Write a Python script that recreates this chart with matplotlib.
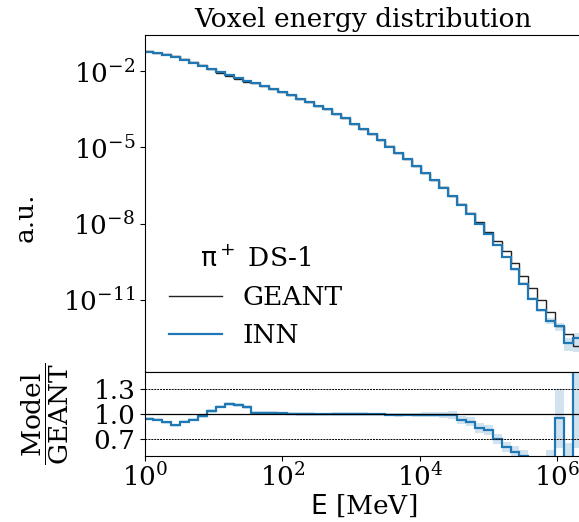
import numpy as np
import matplotlib
matplotlib.use("Agg")
import matplotlib.pyplot as plt
from matplotlib.ticker import NullLocator, FixedLocator

plt.rcParams['font.family'] = ['DejaVu Serif']
plt.rcParams['mathtext.fontset'] = 'dejavusans'

# log10 bin edges (MeV): 49 bins
edges = np.logspace(-0.01, 6.36, 50)

geant = [6.10e-2, 5.36e-2, 4.63e-2, 4.00e-2, 2.97e-2, 2.30e-2, 1.66e-2, 1.19e-2,
         8.38e-3, 6.18e-3, 4.75e-3, 3.86e-3, 3.26e-3, 2.67e-3, 1.94e-3, 1.47e-3,
         1.15e-3, 8.13e-4, 6.18e-4, 4.28e-4, 3.10e-4, 2.09e-4, 1.38e-4, 8.51e-5,
         5.25e-5, 3.24e-5, 1.87e-5, 1.08e-5, 6.08e-6, 3.50e-6, 1.88e-6, 1.01e-6,
         5.18e-7, 2.65e-7, 1.24e-7, 6.05e-8, 2.58e-8, 1.15e-8, 4.68e-9, 2.07e-9,
         8.04e-10, 2.88e-10, 8.71e-11, 2.95e-11, 9.55e-12, 3.24e-12, 9.77e-13,
         4.68e-13, 1.51e-13]

inn = [5.76e-2, 5.01e-2, 4.17e-2, 3.46e-2, 2.69e-2, 2.14e-2, 1.62e-2, 1.23e-2,
       9.12e-3, 6.92e-3, 5.25e-3, 4.17e-3, 3.31e-3, 2.70e-3, 1.96e-3, 1.48e-3,
       1.153e-3, 8.13e-4, 6.17e-4, 4.27e-4, 3.09e-4, 2.09e-4, 1.38e-4, 8.51e-5,
       5.25e-5, 3.23e-5, 1.86e-5, 1.07e-5, 6.02e-6, 3.47e-6, 1.86e-6, 1.00e-6,
       5.13e-7, 2.62e-7, 1.23e-7, 5.61e-8, 2.34e-8, 9.55e-9, 3.79e-9, 1.45e-9,
       4.90e-10, 1.58e-10, 4.36e-11, 1.12e-11, 3.92e-12, 1.49e-12, 9.28e-13,
       2.01e-13, 3.02e-13]

# relative statistical uncertainty of INN
inn_err = [0.02] * 31 + [0.03, 0.03, 0.04, 0.05, 0.05, 0.06, 0.07, 0.08, 0.09,
                         0.10, 0.12, 0.14, 0.15, 0.15, 0.25, 0.37, 0.53, 0.70]

ratio_ticks = [0.7, 1.0, 1.3]
x_ticks = [1e0, 1e2, 1e4, 1e6]
y_ticks = [1e-2, 1e-5, 1e-8, 1e-11]

geant_a = np.array(geant)
inn_a = np.array(inn)
err_a = np.array(inn_err)

fig = plt.figure(figsize=(5.79, 5.22), dpi=100)
ax = fig.add_axes([0.2504, 0.2874, 0.7548, 0.6456])
axr = fig.add_axes([0.2504, 0.1264, 0.7548, 0.1609], sharex=ax)

blue = '#1f77b4'
FS = 19

ax.stairs(inn_a * (1 + err_a), edges, baseline=inn_a * (1 - err_a), fill=True,
          color=blue, alpha=0.2, lw=0)
ax.stairs(geant_a, edges, baseline=None, color='#222222', lw=1.0, label='GEANT')
ax.stairs(inn_a, edges, baseline=None, color=blue, lw=1.6, label='INN')

ax.set_xscale('log')
ax.set_yscale('log')
ax.set_xlim(1, edges[-1])
ax.set_ylim(1.45e-14, 0.263)
ax.yaxis.set_major_locator(FixedLocator(y_ticks))
ax.yaxis.set_minor_locator(NullLocator())
ax.tick_params(axis='y', labelsize=FS)
ax.tick_params(axis='x', which='both', bottom=False, labelbottom=False)
ax.set_ylabel('a.u.', fontsize=FS)
ax.yaxis.set_label_coords(-0.245, 0.46)
ax.set_title('Voxel energy distribution', fontsize=FS)
leg = ax.legend(title=r'$\mathrm{\pi}^+$ DS-1', frameon=False, fontsize=FS,
                title_fontsize=FS, loc='lower left')

ratio = inn_a / geant_a
axr.stairs(ratio * (1 + err_a), edges, baseline=ratio * (1 - err_a), fill=True,
           color=blue, alpha=0.2, lw=0)
axr.axhline(1.0, color='k', lw=0.9)
axr.axhline(1.3, color='k', lw=0.7, ls=(0, (2, 1)))
axr.axhline(0.7, color='k', lw=0.7, ls=(0, (2, 1)))
axr.stairs(ratio, edges, baseline=None, color=blue, lw=1.6)
axr.set_ylim(0.5, 1.5)
axr.yaxis.set_major_locator(FixedLocator(ratio_ticks))
axr.set_yticklabels(['0.7', '1.0', '1.3'])
axr.xaxis.set_major_locator(FixedLocator(x_ticks))
axr.xaxis.set_minor_locator(NullLocator())
axr.tick_params(labelsize=FS)
axr.tick_params(axis='x', pad=1.5)
axr.set_ylabel(r'$\dfrac{\mathdefault{Model}}{\mathdefault{GEANT}}$', fontsize=FS)
axr.yaxis.set_label_coords(-0.17, 0.5)
axr.set_xlabel(r'$\mathrm{E}$ [MeV]', fontsize=FS, labelpad=1)

fig.savefig('out.png', dpi=100)
